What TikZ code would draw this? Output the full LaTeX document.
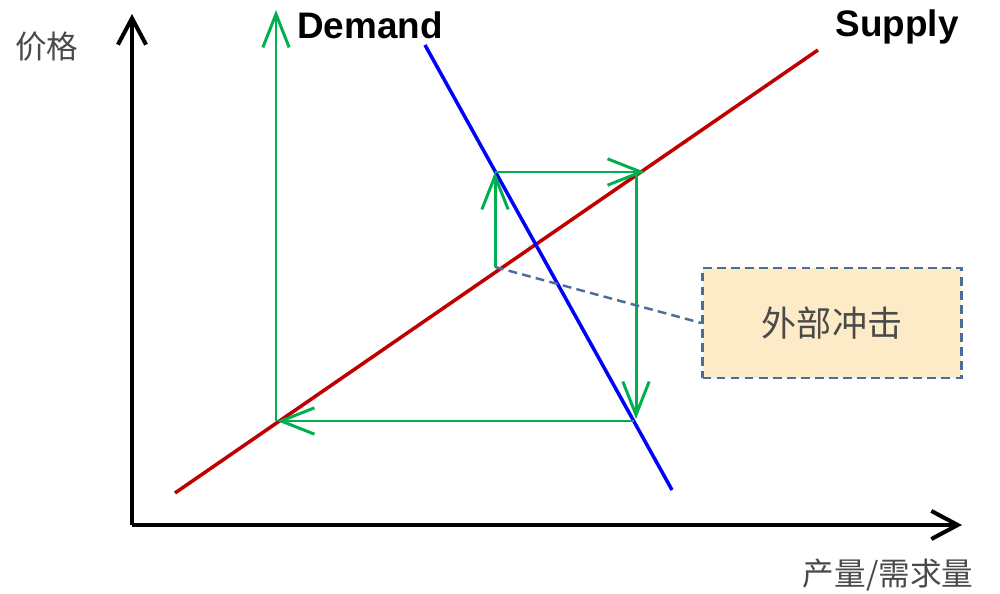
\documentclass[tikz,border=0pt]{standalone}
\usepackage{fontspec}
\setsansfont{Liberation Sans}
\newfontfamily\cjk{Noto Sans CJK SC}
\usetikzlibrary{positioning, arrows.meta}
\definecolor{supplyred}{HTML}{C00000}
\definecolor{demandblue}{HTML}{0000FF}
\definecolor{stepgreen}{HTML}{00B050}
\definecolor{shockblue}{HTML}{4A6E9A}
\definecolor{shockfill}{HTML}{FDEBC8}
\definecolor{labelgray}{HTML}{4A4A4A}

\begin{document}
\begin{tikzpicture}[
  x=0.02cm, y=-0.02cm,
  axis/.style={line width=2.3pt, -{Straight Barb[length=15pt, width=16pt, line width=2.3pt]}},
  curve/.style={line width=2pt},
  move/.style={stepgreen, line width=1.7pt, -{Straight Barb[length=19pt, width=15pt, line width=1.7pt]}},
  title/.style={font=\sffamily\bfseries\fontsize{21}{24}\selectfont},
  axislabel/.style={text=labelgray, font=\cjk\fontsize{18}{20}\selectfont},
  shock/.style={draw=shockblue, dash pattern=on 5pt off 3pt, line width=1.4pt, fill=shockfill,
    minimum width=5.18cm, minimum height=2.2cm, text=labelgray,
    font=\cjk\fontsize{20}{22}\selectfont}
]
\useasboundingbox (0,0) rectangle (1000,594);

% axes
\coordinate (O) at (132,525);
\coordinate (Ytop) at (132,14);
\coordinate (Xend) at (962,525);
\draw[axis] (O) -- (Ytop);
\draw[axis] (O) -- (Xend);
\node[axislabel] (price) at (47,47) {价格};
\node[axislabel] (qty) at (888,575) {产量/需求量};

% supply and demand
\coordinate (S1) at (175,493);
\coordinate (S2) at (818,50);
\coordinate (D1) at (425,45);
\coordinate (D2) at (672,490);
\draw[curve, supplyred] (S1) -- (S2);
\draw[curve, demandblue] (D1) -- (D2);
\node[title] (demand) at (370,25) {Demand};
\node[title] (supply) at (897,27) {Supply};

% adjustment path
\coordinate (P) at (495,267);
\coordinate (Q) at (495,172);
\coordinate (R) at (645,172);
\coordinate (R1) at (636,172);
\coordinate (T) at (636,419);
\coordinate (T1) at (634,421);
\coordinate (A) at (277,421);
\coordinate (A1) at (276,421);
\coordinate (Atop) at (276,10);
\draw[move] (P) -- (Q);
\draw[move] (Q) -- (R);
\draw[move] (R1) -- (T);
\draw[move] (T1) -- (A);
\draw[move] (A1) -- (Atop);

% shock label
\node[shock] (shockbox) at (832,323) {外部冲击};
\draw[shockblue, dash pattern=on 5pt off 3pt, line width=1.4pt] (P) -- (shockbox.west);

\end{tikzpicture}
\end{document}
